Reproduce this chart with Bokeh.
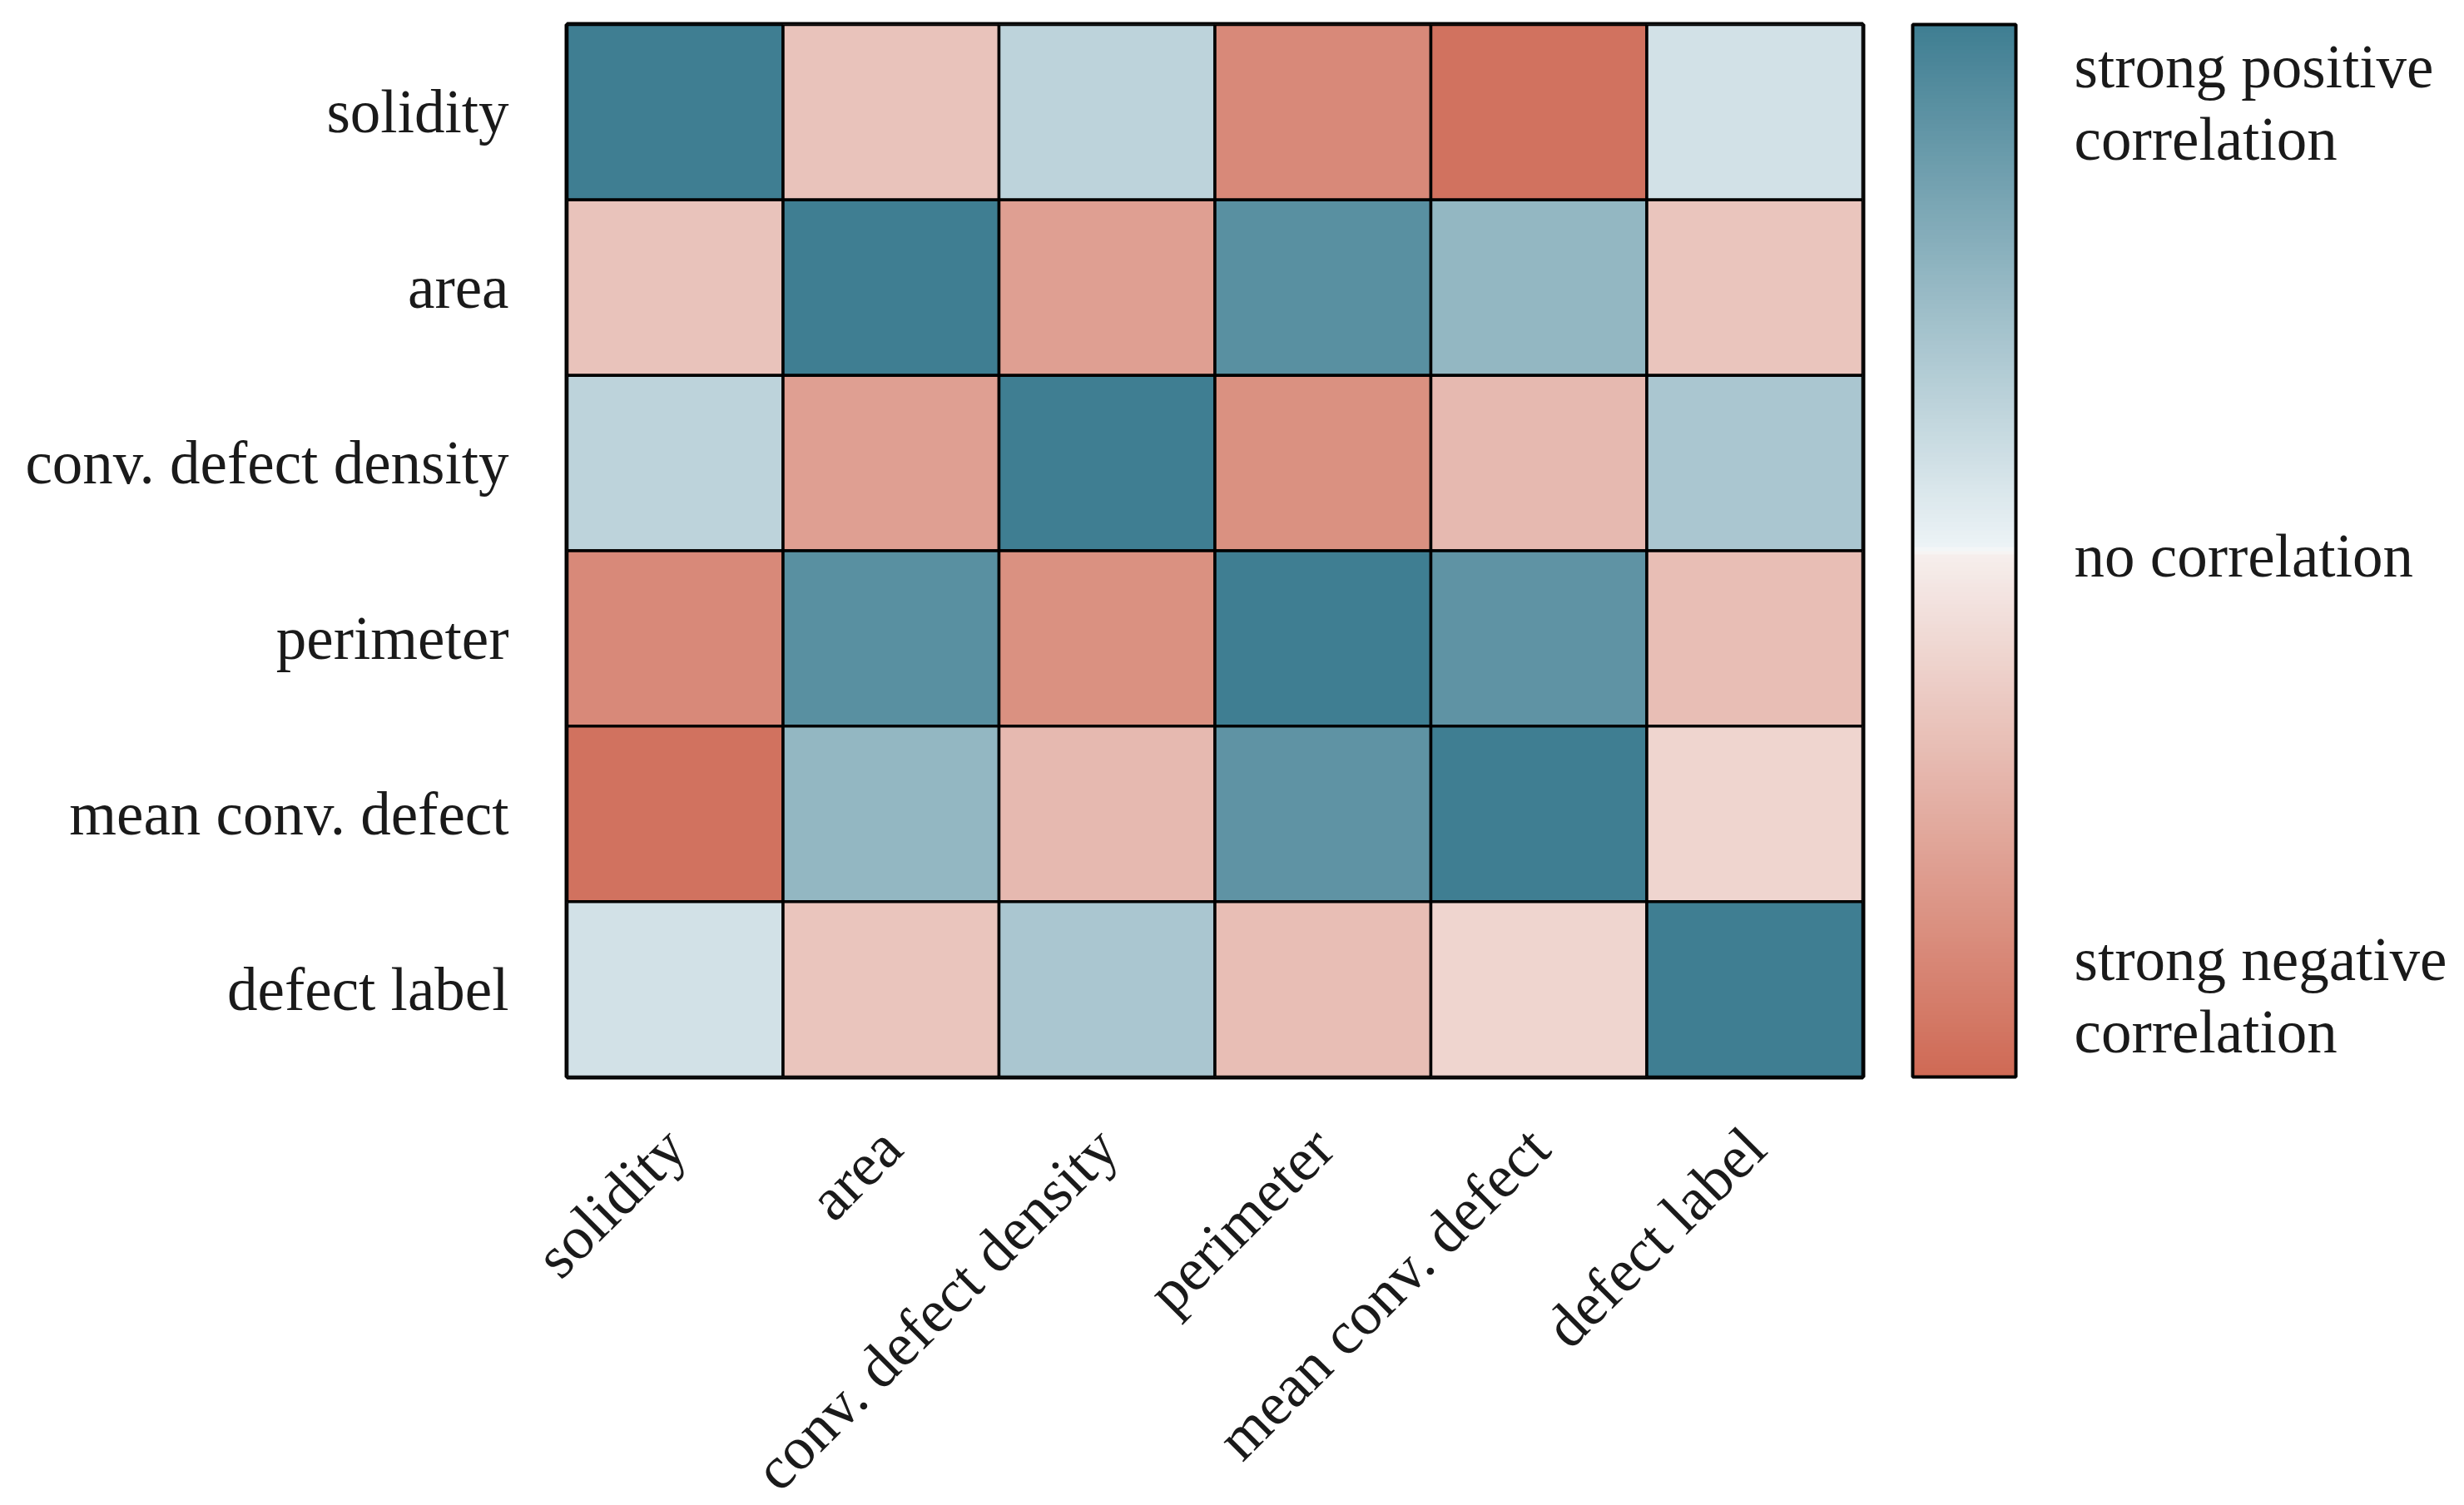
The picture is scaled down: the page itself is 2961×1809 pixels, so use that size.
import numpy as np
from bokeh.plotting import figure
from bokeh.models import (ColumnDataSource, LinearColorMapper, ColorBar,
                          FixedTicker, FactorRange)
from bokeh.transform import transform
from bokeh.embed import file_html
from bokeh.resources import INLINE

# ---- data ---------------------------------------------------------------
features = ["solidity", "area", "conv. defect density", "perimeter",
            "mean conv. defect", "defect label"]

corr_solidity       = [1.00, -0.33, 0.28, -0.76, -0.93, 0.16]
corr_area           = [-0.33, 1.00, -0.60, 0.85, 0.52, -0.32]
corr_conv_density   = [0.28, -0.60, 1.00, -0.71, -0.40, 0.39]
corr_perimeter      = [-0.76, 0.85, -0.71, 1.00, 0.82, -0.37]
corr_mean_conv      = [-0.93, 0.52, -0.40, 0.82, 1.00, -0.20]
corr_defect_label   = [0.16, -0.32, 0.39, -0.37, -0.20, 1.00]

rows = [corr_solidity, corr_area, corr_conv_density, corr_perimeter,
        corr_mean_conv, corr_defect_label]

# colour-bar annotation lines (one tick per text line)
cbar_ticks = [-0.915, -0.777, -0.01, 0.782, 0.92]
cbar_labels = ["correlation", "strong negative", "no correlation",
               "correlation", "strong positive"]

# ---- palette (diverging red -> white -> teal) ---------------------------
anchors = [(-1.0, (207, 106, 85)), (-0.01, (246, 238, 236)),
           (0.0, (248, 248, 248)), (0.01, (236, 243, 246)),
           (1.0, (63, 126, 146))]
palette = []
for t in np.linspace(-1, 1, 256):
    for (a, ca), (b, cb) in zip(anchors[:-1], anchors[1:]):
        if a <= t <= b:
            f = (t - a) / (b - a)
            c = [int(round(ca[k] + f * (cb[k] - ca[k]))) for k in range(3)]
            palette.append("#%02x%02x%02x" % tuple(c))
            break

mapper = LinearColorMapper(palette=palette, low=-1, high=1)

xs, ys, vs = [], [], []
for rname, row in zip(features, rows):
    for cname, v in zip(features, row):
        xs.append(cname)
        ys.append(rname)
        vs.append(v)
src = ColumnDataSource(dict(x=xs, y=ys, v=vs))

FONT = "Liberation Serif"
FS = "73px"
TXT = "#1a1a1a"

p = figure(x_range=FactorRange(factors=features),
           y_range=FactorRange(factors=features[::-1]),
           frame_width=1557, frame_height=1265,
           min_border_left=681, min_border_top=29, min_border_bottom=490,
           min_border_right=700,
           output_backend="svg", toolbar_location=None)

p.rect(x="x", y="y", width=1, height=1, source=src,
       fill_color=transform("v", mapper), line_color="black", line_width=3.5)

p.grid.grid_line_color = None
p.outline_line_color = "black"
p.outline_line_width = 6
for ax in (p.xaxis, p.yaxis):
    ax.axis_line_color = None
    ax.major_tick_line_color = None
    ax.minor_tick_line_color = None
    ax.major_label_text_font = FONT
    ax.major_label_text_font_size = FS
    ax.major_label_text_color = TXT
p.yaxis.major_label_standoff = 64
p.xaxis.major_label_standoff = 67
p.xaxis.major_label_orientation = np.pi / 4

cb = ColorBar(color_mapper=mapper,
              ticker=FixedTicker(ticks=cbar_ticks),
              major_label_overrides={t: l for t, l in zip(cbar_ticks, cbar_labels)},
              major_tick_line_color=None, minor_tick_line_color=None,
              bar_line_color="black", bar_line_width=4,
              width=124, height=1265, margin=0, padding=0,
              location=(60, 0),
              label_standoff=70,
              major_label_text_font=FONT, major_label_text_font_size=FS,
              major_label_text_color=TXT,
              border_line_color=None, background_fill_alpha=0)
p.add_layout(cb, "right")

open("out.html", "w").write(file_html(p, INLINE))
